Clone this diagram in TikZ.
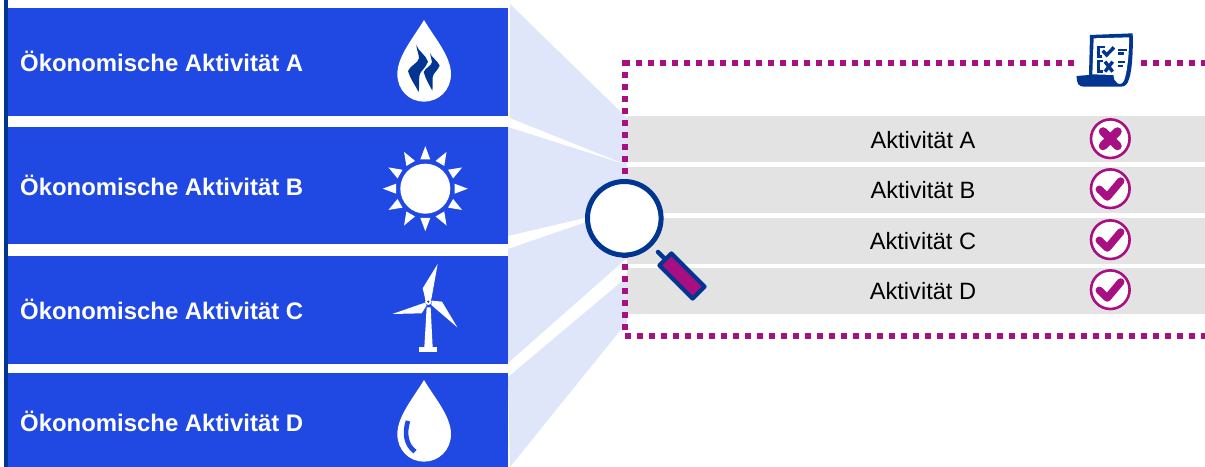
\documentclass[tikz,border=0pt]{standalone}
\usepackage{fontspec}
\setmainfont{Liberation Sans}
\definecolor{actblue}{HTML}{2048E2}
\definecolor{navy}{HTML}{003591}
\definecolor{pale}{HTML}{DFE6F9}
\definecolor{mag}{HTML}{A80F82}
\definecolor{rowgray}{HTML}{E3E3E3}
\tikzset{
  boxfill/.style={fill=actblue,draw=none},
  cone/.style={fill=pale,draw=none},
  rowfill/.style={fill=rowgray,draw=none},
  dots/.style={draw=mag,line width=6bp,dash pattern=on 6bp off 6bp},
  boxlabel/.style={anchor=base west,inner sep=0pt,text=white,font=\fontsize{24}{28}\selectfont\bfseries},
  rowlabel/.style={anchor=base,inner sep=0pt,text=black,font=\fontsize{23.7}{28}\selectfont},
  badge/.style={draw=mag,line width=2.6bp,fill=white},
  mark stroke/.style={draw=mag,line width=7.5bp,line cap=round,line join=round},
  zoomscale/.style={x=0.3333bp,y=-0.3333bp},
}
\newcommand{\dropshape}{(162,60) .. controls (190,108) and (243,168) .. (243,222) .. controls (243,270) and (207,305) .. (162,305) .. controls (117,305) and (82,270) .. (82,222) .. controls (82,168) and (134,108) .. (162,60) -- cycle}
\begin{document}
\begin{tikzpicture}[x=1bp,y=-1bp]
\useasboundingbox (0,0) rectangle (1205,467);
% cones
\fill[cone] (510,4) -- (627,118) -- (627,165) -- (510,118) -- cycle;
\fill[cone] (508,127) -- (627,165) -- (627,208) -- (508,236) -- cycle;
\fill[cone] (508,249) -- (627,208) -- (627,258) -- (508,363) -- cycle;
\fill[cone] (508,377) -- (627,277) -- (627,322) -- (510,467) -- cycle;
% boxes
\fill[navy] (4,0) rectangle (8,467);
\fill[boxfill] (8,8) rectangle (508,116);
\fill[boxfill] (8,127) rectangle (508,244);
\fill[boxfill] (8,256) rectangle (508,364);
\fill[boxfill] (8,373) rectangle (508,467);
\node[boxlabel] (la) at (20,72) {Ökonomische Aktivität A};
\node[boxlabel] (lb) at (20,196) {Ökonomische Aktivität B};
\node[boxlabel] (lc) at (20,320) {Ökonomische Aktivität C};
\node[boxlabel] (ld) at (20,432) {Ökonomische Aktivität D};
% rows
\fill[rowfill] (627,116) rectangle (1205,162);
\fill[rowfill] (627,167) rectangle (1205,213);
\fill[rowfill] (627,218) rectangle (1205,264);
\fill[rowfill] (627,268) rectangle (1205,314);
\node[rowlabel] (ra) at (923,149) {Aktivität A};
\node[rowlabel] (rb) at (923,199) {Aktivität B};
\node[rowlabel] (rc) at (923,250) {Aktivität C};
\node[rowlabel] (rd) at (923,300) {Aktivität D};
% dotted frame
\draw[dots] (624.7,60) -- (624.7,330);
\draw[dots] (624,62.7) -- (1074,62.7);
\draw[dots] (1141,62.7) -- (1147,62.7);
\draw[dots] (1153,62.7) -- (1205,62.7);
\draw[dots] (625,336) -- (1205,336);
% badges
\draw[badge] (1110.3,138.7) circle[radius=19.3bp];
\draw[mark stroke,line width=8.5bp] (1103,131.5) -- (1117.5,146);
\draw[mark stroke,line width=8.5bp] (1117.5,131.5) -- (1103,146);
\draw[badge] (1110.3,188.7) circle[radius=19.3bp];
\draw[mark stroke] (1099.3,189.3) -- (1107.3,197) -- (1120.7,181);
\draw[badge] (1110.3,239.7) circle[radius=19.3bp];
\draw[mark stroke] (1099.3,240.3) -- (1107.3,248) -- (1120.7,232);
\draw[badge] (1110.3,289.7) circle[radius=19.3bp];
\draw[mark stroke] (1099.3,290.3) -- (1107.3,298) -- (1120.7,282);
% magnifier
\draw[fill=white,draw=navy,line width=5bp] (624.3,218.3) circle[radius=36.8bp];
\draw[navy,line width=4.5bp,line cap=round] (658,252) -- (664,258);
\begin{scope}[shift={(682,276)},rotate=-45]
\draw[fill=mag,draw=navy,line width=4bp,line join=round] (-23.5,-8.5) rectangle (23.5,8.5);
\end{scope}
% gas drop
\begin{scope}[shift={(370,0)},zoomscale]
\fill[white] \dropshape;
\fill[navy] (139,135) .. controls (143,152) and (168,165) .. (174,185) .. controls (168,205) and (150,212) .. (148,228) .. controls (147,245) and (148,262) .. (146,276) .. controls (135,255) and (120,235) .. (114,213) .. controls (122,195) and (144,190) .. (147,175) .. controls (146,160) and (140,148) .. (139,135) -- cycle;
\fill[navy] (180,159) .. controls (184,172) and (203,182) .. (209,197) .. controls (203,212) and (190,218) .. (188,232) .. controls (187,245) and (189,258) .. (187,272) .. controls (178,255) and (167,238) .. (161,216) .. controls (168,202) and (184,198) .. (186,186) .. controls (185,176) and (181,168) .. (180,159) -- cycle;
\end{scope}
% sun
\begin{scope}[shift={(425.3,188.7)}]
\fill[white] (0,0) circle[radius=25bp];
\foreach \a in {0,30,...,330}{
  \begin{scope}[rotate=\a]
  \fill[white] (29.2,-5) -- (42.5,0) -- (29.2,5) -- cycle;
  \end{scope}
}
\end{scope}
% turbine
\begin{scope}[shift={(370,250)},zoomscale]
\fill[white] (203,42) -- (158,115) -- (163,135) -- (166,150) -- (184,148) -- cycle;
\fill[white] (67,192) -- (155,190) -- (170,166) -- (165,158) -- cycle;
\fill[white] (262,232) -- (216,155) -- (186,152) -- (184,165) -- cycle;
\fill[white] (170,172) -- (182,172) -- (188,292) -- (163,292) -- cycle;
\fill[white] (148,292) rectangle (202,305);
\fill[white] (175,155) circle[radius=3.3bp];
\fill[actblue] (175,155) circle[radius=1.3bp];
\end{scope}
% water drop
\begin{scope}[shift={(370,360)},zoomscale]
\fill[white] \dropshape;
\draw[actblue,line width=4.6bp] (114,183) .. controls (102,220) and (108,255) .. (135,275);
\end{scope}
% checklist icon
\begin{scope}[shift={(1050,20)},zoomscale]
\fill[white] (75,35) rectangle (255,205);
\fill[navy] (120,45) -- (248,40) .. controls (250,90) and (246,150) .. (238,175) .. controls (232,195) and (225,200) .. (212,200) -- (100,200) .. controls (85,199) and (80,190) .. (80,168) -- (117,165) -- cycle;
\fill[white] (131,55) -- (237,52) .. controls (238,100) and (232,145) .. (226,170) .. controls (222,190) and (212,195) .. (203,190) .. controls (194,185) and (191,175) .. (190,165) -- (127,163) -- cycle;
\draw[navy,line width=2.4bp] (165,81) -- (145,81) -- (145,110) -- (157,110);
\draw[navy,line width=3.4bp] (158,92) -- (170,105) -- (192,82);
\fill[navy] (205,86) rectangle (231,93);
\fill[navy] (205,97) rectangle (222,104);
\draw[navy,line width=2.4bp] (160,123) -- (145,123) -- (145,155) -- (160,155);
\draw[navy,line width=3.4bp] (165,125) -- (188,155) (188,125) -- (165,155);
\fill[navy] (205,124) rectangle (225,130);
\fill[navy] (205,135) rectangle (218,141);
\end{scope}
\end{tikzpicture}
\end{document}
